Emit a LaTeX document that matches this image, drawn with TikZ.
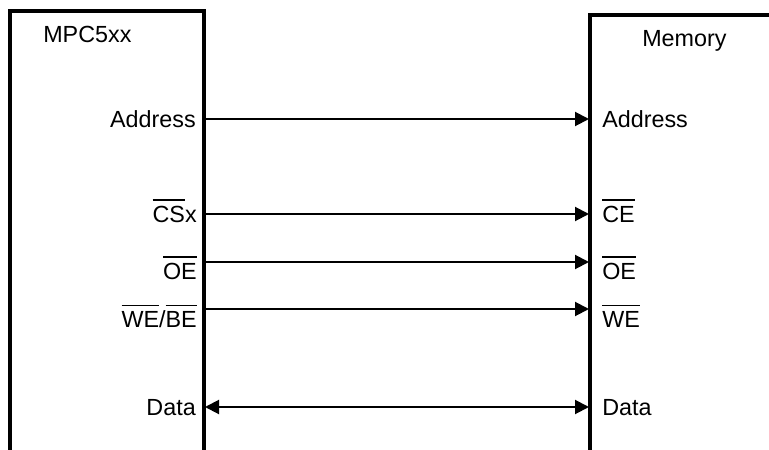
\documentclass[tikz,border=0pt]{standalone}
\usepackage{fontspec}
\setmainfont{Liberation Sans}
\usetikzlibrary{arrows.meta}
\newcommand{\ob}[1]{\leavevmode\vbox{\hrule height 1.2pt\kern 3.6pt\hbox{#1}}}
\tikzset{
  boxline/.style={line width=2.3pt},
  tip/.style={},
  sig/.style={line width=1.5pt,-{Triangle[length=10.5pt,width=10.5pt]}},
  bisig/.style={line width=1.5pt,{Triangle[length=10.5pt,width=10.5pt]}-{Triangle[length=10.5pt,width=10.5pt]}},
  lbl/.style={inner sep=0pt,font=\fontsize{17.5}{20}\selectfont},
  llbl/.style={lbl,anchor=base east},
  rlbl/.style={lbl,anchor=base west}
}
\begin{document}
\begin{tikzpicture}[x=0.75pt,y=-0.75pt]
\useasboundingbox (0,0) rectangle (769,450);
% boxes
\draw[boxline] (10,450) -- (10,11) -- (204,11) -- (204,450);
\draw[boxline] (590,450) -- (590,15) -- (770,15);
\node[rlbl] (mpc) at (43,42) {MPC5xx};
\node[rlbl] (mem) at (642,46) {Memory};
% left labels
\node[llbl] (la) at (196,127) {Address};
\node[llbl] (lcs) at (197,222) {\ob{CS}x};
\node[llbl] (loe) at (197,279) {\ob{OE}};
\node[llbl] (lwe) at (197,327) {\ob{WE}/\ob{BE}};
\node[llbl] (ld) at (196,415) {Data};
% right labels
\node[rlbl] (ra) at (602,127) {Address};
\node[rlbl] (rce) at (602,222) {\ob{CE}};
\node[rlbl] (roe) at (602,279) {\ob{OE}};
\node[rlbl] (rwe) at (602,327) {\ob{WE}};
\node[rlbl] (rd) at (602,415) {Data};
% connector end points on box edges
\coordinate (a1) at (205,119); \coordinate (a2) at (589,119);
\coordinate (c1) at (205,214); \coordinate (c2) at (589,214);
\coordinate (o1) at (205,262); \coordinate (o2) at (589,262);
\coordinate (w1) at (205,309); \coordinate (w2) at (589,309);
\coordinate (d1) at (205,407); \coordinate (d2) at (589,407);
\draw[sig] (a1) -- (a2);
\draw[sig] (c1) -- (c2);
\draw[sig] (o1) -- (o2);
\draw[sig] (w1) -- (w2);
\draw[bisig] (d1) -- (d2);
\end{tikzpicture}
\end{document}
